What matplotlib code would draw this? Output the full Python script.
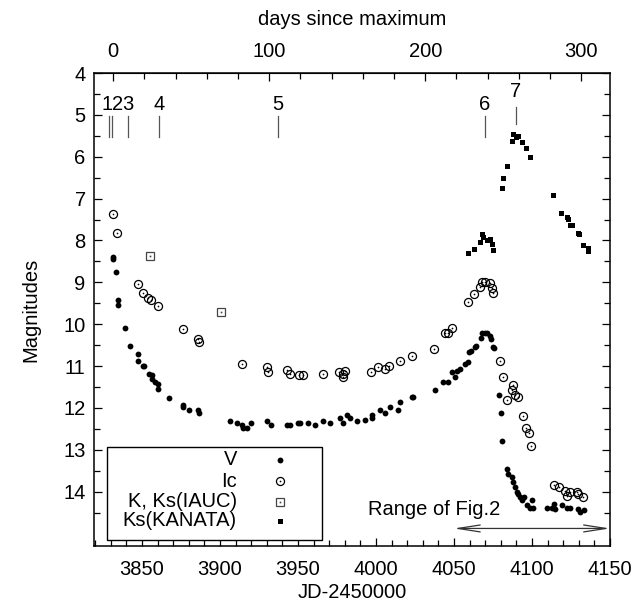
#!/usr/bin/env python3
"""Light curve plot: V, Ic and K magnitudes vs JD."""

from __future__ import annotations

import matplotlib

matplotlib.use("Agg")
import matplotlib.pyplot as plt
from matplotlib.patches import Rectangle

plt.rcParams["font.family"] = ["Liberation Sans", "DejaVu Sans"]

T_MAX = 3831.6  # JD-2450000 of maximum

V_JD = [
    3831.5, 3831.5, 3833.4, 3834.7, 3834.7, 3839.2, 3842.4, 3847.5, 3847.5, 3850.7,
    3851.4, 3854.6, 3856.5, 3856.5, 3858.4, 3860.3, 3860.3, 3867.4, 3876.4, 3876.4,
    3880.2, 3886.0, 3886.6, 3906.5, 3911.0, 3914.2, 3914.9, 3917.4, 3920.0, 3930.3,
    3932.8, 3943.1, 3945.0, 3950.1, 3951.4, 3956.6, 3961.1, 3966.2, 3970.7, 3977.1,
    3979.0, 3981.6, 3983.5, 3988.0, 3993.1, 3997.6, 3997.6, 4002.7, 4005.9, 4009.2,
    4014.3, 4015.6, 4023.3, 4023.9, 4038.0, 4043.2, 4046.4, 4048.9, 4050.9, 4052.1,
    4054.1, 4057.3, 4059.2, 4059.8, 4061.1, 4063.7, 4064.3, 4067.5, 4068.2, 4070.1,
    4071.4, 4073.3, 4074.0, 4075.2, 4075.9, 4079.1, 4080.4, 4081.0, 4084.2, 4084.9,
    4087.4, 4088.1, 4089.3, 4090.6, 4091.3, 4092.5, 4093.8, 4095.1, 4097.0, 4099.0,
    4100.2, 4100.9, 4109.9, 4113.1, 4114.3, 4115.0, 4119.5, 4122.7, 4124.6, 4129.7,
    4131.0, 4133.6,
]
V_MAG = [
    8.40, 8.45, 8.76, 9.43, 9.53, 10.10, 10.53, 10.72, 10.87, 10.99,
    10.99, 11.18, 11.22, 11.32, 11.37, 11.42, 11.54, 11.77, 11.92, 11.97,
    12.04, 12.06, 12.13, 12.32, 12.37, 12.42, 12.47, 12.47, 12.37, 12.32,
    12.42, 12.42, 12.42, 12.37, 12.37, 12.37, 12.42, 12.32, 12.35, 12.23,
    12.35, 12.18, 12.25, 12.32, 12.28, 12.18, 12.25, 12.06, 12.13, 11.99,
    12.06, 11.87, 11.75, 11.73, 11.58, 11.37, 11.37, 11.15, 11.25, 11.13,
    11.06, 10.94, 10.91, 10.67, 10.63, 10.55, 10.51, 10.34, 10.20, 10.22,
    10.20, 10.27, 10.36, 10.55, 10.58, 11.68, 12.13, 12.80, 13.45, 13.59,
    13.66, 13.78, 13.90, 14.00, 14.05, 14.14, 14.21, 14.14, 14.33, 14.38,
    14.21, 14.38, 14.38, 14.38, 14.29, 14.41, 14.33, 14.38, 14.38, 14.41,
    14.48, 14.43,
]

IC_JD = [
    3831.5, 3834.1, 3847.5, 3850.7, 3854.0, 3855.9, 3860.3, 3876.4, 3886.0, 3886.6,
    3914.2, 3930.3, 3930.9, 3943.1, 3945.0, 3950.8, 3953.4, 3966.2, 3976.4, 3979.0,
    3980.3, 3979.0, 3997.0, 4001.5, 4005.9, 4008.5, 4015.6, 4023.3, 4037.4, 4044.4,
    4046.4, 4048.9, 4059.2, 4063.0, 4066.9, 4068.2, 4070.1, 4073.3, 4074.6, 4075.2,
    4079.7, 4081.6, 4084.2, 4088.1, 4087.4, 4089.3, 4091.3, 4094.5, 4096.4, 4098.3,
    4099.6, 4114.3, 4117.5, 4121.4, 4122.7, 4124.6, 4129.1, 4129.7, 4133.0,
]
IC_MAG = [
    7.37, 7.83, 9.05, 9.26, 9.38, 9.43, 9.57, 10.12, 10.36, 10.43,
    10.96, 11.03, 11.15, 11.10, 11.20, 11.22, 11.22, 11.20, 11.15, 11.20,
    11.13, 11.27, 11.15, 11.03, 11.06, 11.01, 10.89, 10.75, 10.60, 10.22,
    10.22, 10.08, 9.48, 9.29, 9.12, 9.00, 9.00, 9.02, 9.14, 9.26,
    10.87, 11.27, 11.80, 11.46, 11.58, 11.68, 11.75, 12.20, 12.49, 12.59,
    12.92, 13.83, 13.90, 13.98, 14.10, 14.02, 14.00, 14.05, 14.14,
]

K_IAUC_JD = [3855.2, 3900.8]
K_IAUC_MAG = [8.38, 9.72]

KS_JD = [
    4059.2, 4063.0, 4066.9, 4068.2, 4068.8, 4071.4, 4073.3, 4074.6, 4075.2, 4081.0,
    4081.6, 4084.2, 4087.4, 4088.1, 4090.0, 4091.3, 4093.8, 4096.4, 4099.0, 4113.7,
    4118.8, 4122.7, 4123.3, 4124.6, 4125.9, 4129.7, 4130.4, 4133.0, 4136.2, 4136.2,
]
KS_MAG = [
    8.31, 8.21, 8.04, 7.85, 7.92, 7.99, 7.97, 8.09, 8.23, 6.75,
    6.51, 6.22, 5.63, 5.46, 5.53, 5.51, 5.65, 5.79, 6.01, 6.92,
    7.35, 7.44, 7.49, 7.64, 7.64, 7.83, 7.85, 8.11, 8.19, 8.26,
]

# spectroscopic epochs marked at the top
EPOCH_LABELS = ["1", "2", "3", "4", "5", "6", "7"]
EPOCH_JD = [3829.0, 3831.0, 3841.0, 3861.0, 3937.0, 4070.0, 4089.5]
EPOCH_TEXT_JD = [3827.6, 3834.4, 3841.1, 3861.0, 3937.0, 4069.5, 4089.5]

FIG2_RANGE = [4050, 4150]

FS = 14.5


def plot(path: str) -> None:
    fig = plt.figure(figsize=(6.4, 6.09), dpi=100)
    ax = fig.add_axes([0.147, 0.1034, 0.806, 0.7766])

    ax.plot(V_JD, V_MAG, "o", color="black", ms=4.2, mew=0, zorder=3)
    ax.plot(IC_JD, IC_MAG, "o", mfc="none", mec="black", ms=5.8, mew=0.9, zorder=3)
    ax.plot(IC_JD, IC_MAG, "o", color="black", ms=1.2, mew=0, zorder=3)
    ax.plot(K_IAUC_JD, K_IAUC_MAG, "s", mfc="white", mec="#444444", ms=5.2, mew=0.9, zorder=3)
    ax.plot(K_IAUC_JD, K_IAUC_MAG, "s", color="#444444", ms=1.2, mew=0, zorder=3)
    ax.plot(KS_JD, KS_MAG, "s", color="black", ms=3.6, mew=0, zorder=3)

    # epoch markers
    for lab, xl, xt in zip(EPOCH_LABELS, EPOCH_JD, EPOCH_TEXT_JD):
        if lab == "7":
            y0, y1, yt = 4.81, 5.22, 4.45
        else:
            y0, y1, yt = 5.03, 5.53, 4.74
        ax.plot([xl, xl], [y0, y1], color="#555555", lw=0.9)
        ax.text(xt, yt, lab, ha="center", va="center", fontsize=FS)

    # range of fig. 2
    ax.annotate("", xy=(FIG2_RANGE[0], 14.88), xytext=(FIG2_RANGE[1], 14.88),
                arrowprops=dict(arrowstyle="<->,head_length=1.6,head_width=0.25",
                                color="#333333", lw=0.9, shrinkA=0, shrinkB=0))
    ax.text(4080, 14.42, "Range of Fig.2", ha="right", va="center", fontsize=FS)

    ax.set_xlim(3819.3, 4150)
    ax.set_ylim(15.3, 4)
    ax.set_xticks(range(3850, 4151, 50))
    ax.set_xticks(range(3820, 4151, 10), minor=True)
    ax.set_yticks(range(4, 15))
    ax.set_yticks([4.5 + i for i in range(11)], minor=True)
    ax.tick_params(which="both", direction="in", right=True, top=False, labelsize=FS, width=0.9)
    ax.tick_params(axis="x", which="major", length=6, pad=10)
    ax.tick_params(axis="x", which="minor", length=4)
    ax.tick_params(axis="y", which="major", length=6, pad=6)
    ax.tick_params(axis="y", which="minor", length=4)
    for sp in ax.spines.values():
        sp.set_linewidth(1.1)

    ax.set_xlabel("JD-2450000", fontsize=FS)
    ax.set_ylabel("Magnitudes", fontsize=FS)
    ax.xaxis.set_label_coords(0.5, -0.078)
    ax.yaxis.set_label_coords(-0.105, 0.5)

    top = ax.secondary_xaxis("top", functions=(lambda x: x - T_MAX, lambda d: d + T_MAX))
    top.set_xticks([0, 100, 200, 300])
    top.set_xticks(range(0, 320, 20), minor=True)
    top.tick_params(which="both", direction="in", labelsize=FS, width=0.9)
    top.tick_params(which="major", length=6, pad=9)
    top.tick_params(which="minor", length=4)
    top.set_xlabel("days since maximum", fontsize=FS, labelpad=12)

    # legend box drawn by hand: right-aligned labels, symbols on the right
    ax.add_patch(Rectangle((0.025, 0.013), 0.417, 0.196, transform=ax.transAxes,
                           facecolor="white", edgecolor="black", lw=1.0, zorder=4))
    rows = [0.182, 0.137, 0.094, 0.053]
    names = ["V", "Ic", "K, Ks(IAUC)", "Ks(KANATA)"]
    for y, name in zip(rows, names):
        ax.text(0.277, y, name, transform=ax.transAxes, ha="right", va="center",
                fontsize=FS, zorder=5)
    tr = ax.transAxes
    ax.plot([0.36], [rows[0]], "o", color="black", ms=4.2, mew=0, transform=tr, zorder=5)
    ax.plot([0.36], [rows[1]], "o", mfc="none", mec="black", ms=5.8, mew=0.9, transform=tr, zorder=5)
    ax.plot([0.36], [rows[1]], "o", color="black", ms=1.2, mew=0, transform=tr, zorder=5)
    ax.plot([0.36], [rows[2]], "s", mfc="white", mec="#444444", ms=5.2, mew=0.9, transform=tr, zorder=5)
    ax.plot([0.36], [rows[2]], "s", color="#444444", ms=1.2, mew=0, transform=tr, zorder=5)
    ax.plot([0.36], [rows[3]], "s", color="black", ms=3.6, mew=0, transform=tr, zorder=5)

    fig.savefig(path, dpi=100, facecolor="white")
    plt.close(fig)


def main() -> None:
    plot("out.png")


if __name__ == "__main__":
    main()
